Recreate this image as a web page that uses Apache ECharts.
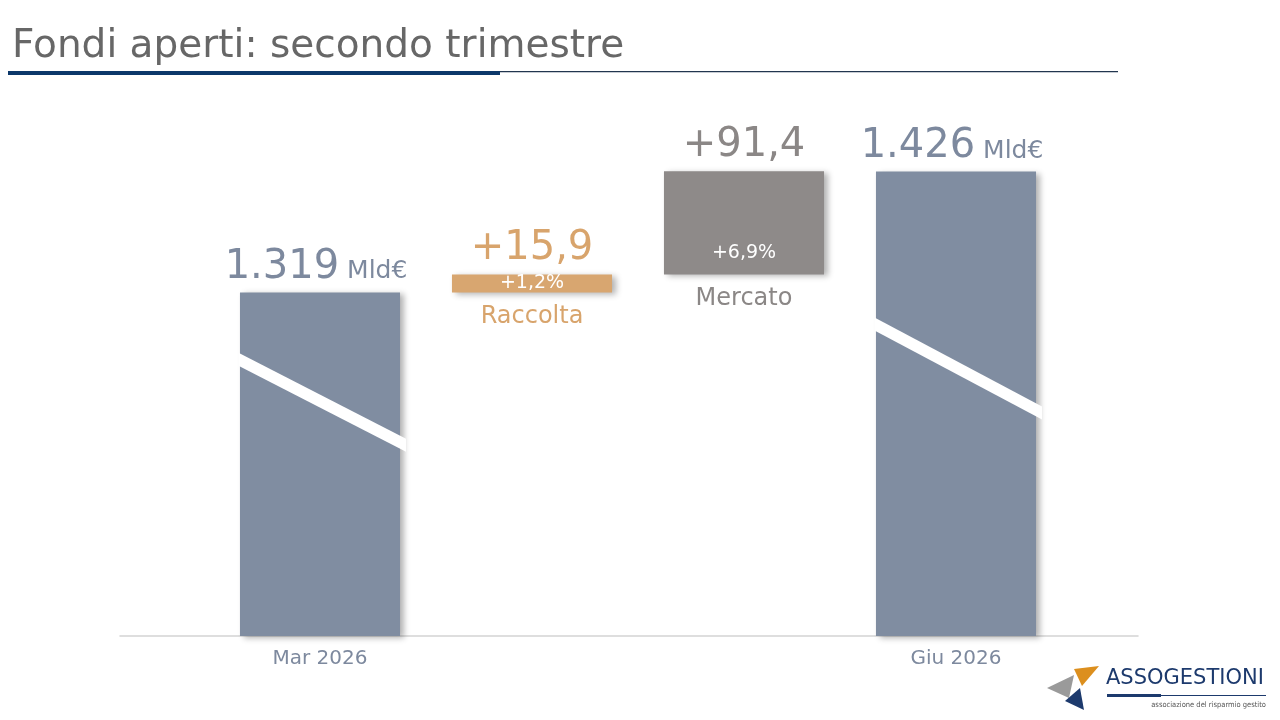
<!DOCTYPE html>
<html>
<head>
<meta charset="utf-8">
<script src="https://cdn.jsdelivr.net/npm/echarts@6/dist/echarts.min.js"></script>
<style>
html,body{margin:0;padding:0;background:#ffffff;}
#chart{width:1280px;height:720px;}
</style>
</head>
<body>
<div id="chart"></div>
<script>
// ---- data (miliardi di euro) ----
const categories = ['Mar 2026', 'Raccolta', 'Mercato', 'Giu 2026'];
const amounts = [1319, 15.9, 91.4, 1426];
const kinds = ['total', 'delta', 'delta', 'total'];
const pctChanges = [null, 1.2, 6.9, null];
const unitLabel = 'Mld€';
const titleText = 'Fondi aperti: secondo trimestre';

// ---- style ----
const FONT = 'DejaVu Sans, Verdana, sans-serif';
const BAR_COLORS = ['#808da1', '#d8a670', '#8e8a89', '#808da1'];
const LABEL_COLORS = ['#7d899e', '#d8a46c', '#8b8786', '#7d899e'];
// decorative "broken axis" slashes on the total bars (fractions of visible bar height)
const SLASHES = { 0: [0.195, 0.445], 3: [0.329, 0.52] };

function fmtThousands(v) {
  return Math.round(v).toString().replace(/\B(?=(\d{3})+(?!\d))/g, '.');
}
function fmtSigned(v, suffix) {
  return (v >= 0 ? '+' : '') + v.toFixed(1).replace('.', ',') + (suffix || '');
}

// waterfall ranges built from the values
let running = 0;
const barData = categories.map((c, i) => {
  let start, end;
  if (kinds[i] === 'total') { start = 0; end = amounts[i]; running = amounts[i]; }
  else { start = running; end = running + amounts[i]; running = end; }
  return [i, start, end];
});

function renderItem(params, api) {
  const i = api.value(0);
  const start = api.value(1);
  const end = api.value(2);
  const cs = params.coordSys;
  const pTop = api.coord([i, end]);
  const pBot = api.coord([i, start]);
  const top = pTop[1];
  const bottom = Math.min(pBot[1], cs.y + cs.height);
  const h = bottom - top;
  const w = api.size([1, 0])[0] * 0.755;
  const cx = pTop[0];
  const x0 = cx - w / 2;
  const children = [{
    type: 'rect',
    shape: { x: x0, y: top, width: w, height: h },
    style: {
      fill: BAR_COLORS[i],
      shadowBlur: 6, shadowColor: 'rgba(0,0,0,0.3)',
      shadowOffsetX: 4, shadowOffsetY: 2
    }
  }];
  if (kinds[i] === 'total') {
    const s = SLASHES[i];
    if (s) {
      const yl = top + s[0] * h, yr = top + s[1] * h, t = 6.5;
      const xl = x0 - 1, xr = x0 + w + 6;
      children.push({
        type: 'polygon',
        shape: { points: [[xl, yl - t], [xr, yr - t], [xr, yr + t], [xl, yl + t]] },
        style: { fill: '#ffffff' }
      });
    }
    children.push({
      type: 'text',
      style: {
        text: '{n|' + fmtThousands(amounts[i]) + '}{u| ' + unitLabel + '}',
        x: cx - 4, y: top - 5,
        align: 'center', verticalAlign: 'bottom',
        rich: {
          n: { fontSize: 40, fontFamily: FONT, fill: LABEL_COLORS[i], verticalAlign: 'bottom' },
          u: { fontSize: 25, fontFamily: FONT, fill: LABEL_COLORS[i], verticalAlign: 'bottom', padding: [0, 0, 3, 0] }
        }
      }
    });
  } else {
    children.push({
      type: 'text',
      style: {
        text: fmtSigned(amounts[i]),
        x: cx, y: top - 6,
        align: 'center', verticalAlign: 'bottom',
        fontSize: 40, fontFamily: FONT, fill: LABEL_COLORS[i]
      }
    });
    if (pctChanges[i] != null) {
      children.push({
        type: 'text',
        style: {
          text: fmtSigned(pctChanges[i], '%'),
          x: cx, y: bottom - Math.min(21, h / 2),
          align: 'center', verticalAlign: 'middle',
          fontSize: 19, fontFamily: FONT, fill: '#ffffff'
        }
      });
    }
    children.push({
      type: 'text',
      style: {
        text: categories[i],
        x: cx, y: bottom + 12,
        align: 'center', verticalAlign: 'top',
        fontSize: 24, fontFamily: FONT, fill: LABEL_COLORS[i]
      }
    });
  }
  return { type: 'group', children: children };
}

const chart = echarts.init(document.getElementById('chart'), null, { renderer: 'canvas' });
chart.setOption({
  animation: false,
  backgroundColor: '#ffffff',
  title: {
    text: titleText, left: 12, top: 27, padding: 0,
    textStyle: { fontFamily: FONT, fontSize: 39, fontWeight: 'normal', color: '#676767' }
  },
  grid: [
    { left: 214, right: 218, top: 167, bottom: 84 },
    { left: 120, right: 142, top: 167, bottom: 84 }
  ],
  xAxis: [
    {
      type: 'category', gridIndex: 0, data: categories,
      axisLine: { show: false }, axisTick: { show: false },
      axisLabel: {
        margin: 13, fontSize: 20, fontFamily: FONT, color: '#7d899e',
        formatter: (v, idx) => kinds[idx] === 'total' ? v : ''
      }
    },
    {
      type: 'value', gridIndex: 1, min: 0, max: 1,
      axisLine: { show: true, lineStyle: { color: '#d3d3d3', width: 1.5 } },
      axisTick: { show: false }, axisLabel: { show: false }, splitLine: { show: false }
    }
  ],
  yAxis: [
    { type: 'value', gridIndex: 0, min: 1015, max: 1430, show: false, splitLine: { show: false } },
    { type: 'value', gridIndex: 1, show: false, splitLine: { show: false } }
  ],
  series: [{
    type: 'custom', xAxisIndex: 0, yAxisIndex: 0,
    renderItem: renderItem, data: barData, clip: false, silent: true, z: 3
  }],
  graphic: [
    { type: 'rect', shape: { x: 8, y: 71, width: 492, height: 4 }, style: { fill: '#0c386a' } },
    { type: 'rect', shape: { x: 500, y: 71, width: 618, height: 1.2 }, style: { fill: '#22364f' } },
    // logo
    { type: 'polygon', shape: { points: [[1047, 688], [1074, 675], [1069, 698]] }, style: { fill: '#9a9a9a' } },
    { type: 'polygon', shape: { points: [[1074, 669], [1099, 666], [1082, 686]] }, style: { fill: '#dc8f1e' } },
    { type: 'polygon', shape: { points: [[1065, 701], [1080, 688], [1084, 710]] }, style: { fill: '#1d3a6d' } },
    { type: 'text', style: { text: 'ASSOGESTIONI', x: 1106, y: 679, verticalAlign: 'middle', fontSize: 21, fontFamily: FONT, fill: '#1d3a6d' } },
    { type: 'rect', shape: { x: 1107, y: 694, width: 54, height: 3 }, style: { fill: '#1d3a6d' } },
    { type: 'rect', shape: { x: 1161, y: 695, width: 105, height: 1 }, style: { fill: '#1d3a6d' } },
    { type: 'text', style: { text: 'associazione del risparmio gestito', x: 1266, y: 705, align: 'right', verticalAlign: 'middle', fontSize: 7.5, fontFamily: 'Liberation Sans Narrow, DejaVu Sans Condensed, sans-serif', fill: '#555555' } }
  ]
});
</script>
</body>
</html>
